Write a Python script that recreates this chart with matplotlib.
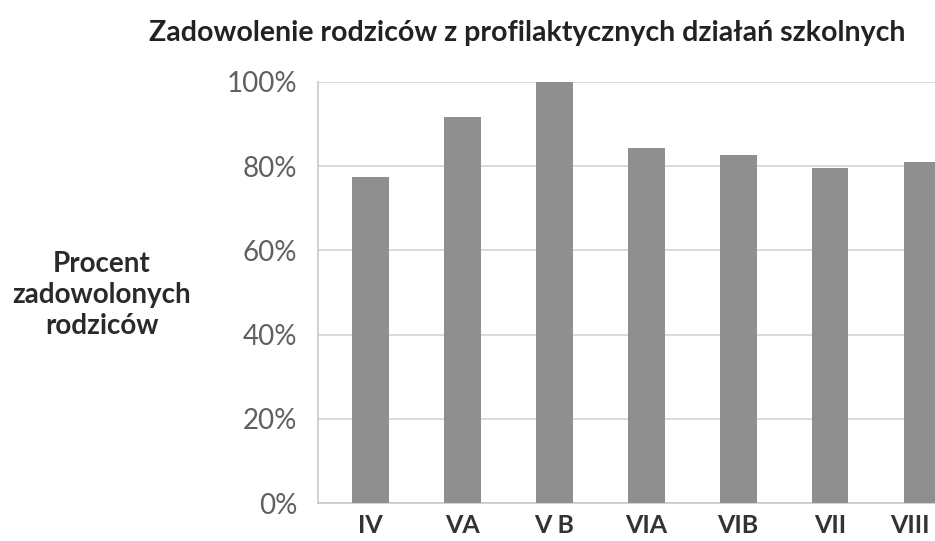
import matplotlib
matplotlib.use("Agg")
import matplotlib.pyplot as plt
import matplotlib.transforms as mtransforms
from matplotlib.ticker import PercentFormatter

categories = ["IV", "VA", "V B", "VIA", "VIB", "VII", "VIII"]
values = [77.5, 91.8, 100.0, 84.3, 82.7, 79.5, 81.1]
yticks = [0, 20, 40, 60, 80, 100]

plt.rcParams['font.family'] = ['Lato', 'DejaVu Sans']

W, H = 935, 541
fig = plt.figure(figsize=(W/100, H/100), dpi=100)
left, bottom = 318/W, 1 - 503/H
top = 1 - 82/H
width = 650/W
ax = fig.add_axes([left, bottom, width, top - bottom])

x = list(range(len(categories)))
ax.bar(x, values, width=0.4, color="#8f8f8f", zorder=3)
ax.set_xlim(-0.57, 6.5)
ax.set_ylim(0, 100)
ax.set_yticks(yticks)
ax.yaxis.set_major_formatter(PercentFormatter(decimals=0))
ax.set_xticks(x)
ax.set_xticklabels(categories, fontsize=18, fontweight="bold", color="#333333")
ax.tick_params(axis="y", labelsize=20, colors="#606060", length=0, pad=15)
ax.tick_params(axis="x", length=0, pad=8)
ax.grid(axis="y", color="#d4d4d4", linewidth=1.2, zorder=0)
for s in ["top", "right"]:
    ax.spines[s].set_visible(False)
ax.spines["left"].set_color("#c8c8c8")
ax.spines["bottom"].set_color("#c8c8c8")
ax.spines["left"].set_linewidth(1.2)
ax.spines["bottom"].set_linewidth(1.2)

# keep the last (partly cropped) category label inside the picture
last = ax.get_xticklabels()[-1]
last.set_transform(last.get_transform() +
                   mtransforms.ScaledTranslation(-12/100, 0, fig.dpi_scale_trans))

fig.text(527/W, 1 - 33/H, "Zadowolenie rodziców z profilaktycznych działań szkolnych",
         ha="center", va="center", fontsize=20.5, fontweight="bold", color="#222222")
fig.text(102/W, 1 - 295/H, "Procent\nzadowolonych\nrodziców", ha="center", va="center",
         fontsize=20, fontweight="bold", color="#2a2a2a", linespacing=1.25)

fig.savefig("out.png", dpi=100)
